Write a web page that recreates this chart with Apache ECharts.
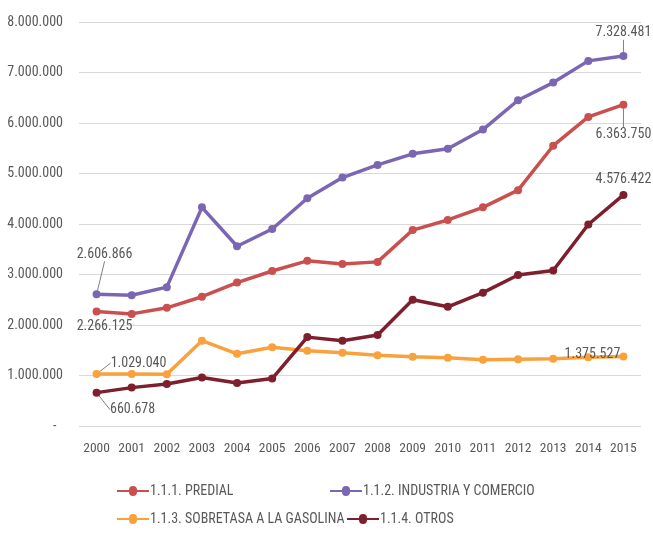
<!DOCTYPE html>
<html>
<head>
<meta charset="utf-8">
<script src="https://cdn.jsdelivr.net/npm/echarts@6/dist/echarts.min.js"></script>
<style>html,body{margin:0;padding:0;background:#fff;}#c{width:653px;height:533px;}</style>
</head>
<body>
<div id="c"></div>
<script>
const years = ['2000','2001','2002','2003','2004','2005','2006','2007','2008','2009','2010','2011','2012','2013','2014','2015'];
const predial = [2266125, 2220000, 2340000, 2560000, 2840000, 3070000, 3270000, 3210000, 3250000, 3880000, 4080000, 4330000, 4670000, 5550000, 6120000, 6363750];
const industria = [2606866, 2590000, 2750000, 4330000, 3560000, 3900000, 4510000, 4920000, 5170000, 5390000, 5490000, 5870000, 6450000, 6800000, 7230000, 7328481];
const sobretasa = [1029040, 1030000, 1025000, 1690000, 1430000, 1560000, 1490000, 1450000, 1400000, 1370000, 1350000, 1310000, 1320000, 1330000, 1360000, 1375527];
const otros = [660678, 760000, 830000, 960000, 850000, 940000, 1760000, 1690000, 1800000, 2500000, 2360000, 2640000, 2990000, 3080000, 3990000, 4576422];
const names = ['1.1.1. PREDIAL', '1.1.2. INDUSTRIA Y COMERCIO', '1.1.3. SOBRETASA A LA GASOLINA', '1.1.4. OTROS'];
const colors = ['#c9504f', '#7b66b3', '#f9a13d', '#7d1f2c'];

const FONT = "'Liberation Sans Narrow', 'Roboto Condensed', 'Liberation Sans', sans-serif";
function fmt(v) {
  return String(Math.round(v)).replace(/\B(?=(\d{3})+(?!\d))/g, '.');
}
// label offsets (dx, dy) relative to point, and whether to draw a leader line
const labelCfg = [
  {0: [8, 15, false], 15: [0, 30, true]},
  {0: [8, -40, true], 15: [0, -23, true]},
  {0: [42, -11, true], 15: [-31, -2, false]},
  {0: [36, 17, true], 15: [0, -15, false]}
];
function build(arr, si) {
  return arr.map((v, i) => {
    const c = labelCfg[si][i];
    if (!c) return v;
    return {value: v, label: {show: true}, labelLine: {show: c[2]}};
  });
}
const series = [predial, industria, sobretasa, otros].map((arr, si) => ({
  name: names[si],
  type: 'line',
  data: build(arr, si),
  symbol: 'circle',
  symbolSize: 8,
  lineStyle: {width: 3.5, color: colors[si]},
  itemStyle: {color: colors[si]},
  label: {
    show: false, position: 'inside', color: '#595959', fontSize: 14, fontFamily: FONT,
    formatter: p => fmt(p.value)
  },
  labelLine: {show: false, lineStyle: {color: '#7f7f7f', width: 1}},
  labelLayout: function (p) {
    const c = labelCfg[si][p.dataIndex];
    if (!c) return {};
    return {dx: c[0], dy: c[1]};
  },
  z: 2 + si
}));

const chart = echarts.init(document.getElementById('c'));
const legendBase = {
  itemWidth: 32, itemHeight: 10, itemGap: 2,
  textStyle: {color: '#595959', fontSize: 14, fontFamily: FONT, padding: [0, 0, 0, -4]},
  icon: 'path://M0,4 L12,4 A4,4 0 0 1 20,4 L32,4 L32,6 L20,6 A4,4 0 0 1 12,6 L0,6 Z',
  padding: 0
};
chart.setOption({
  animation: false,
  backgroundColor: '#fff',
  color: colors,
  grid: {left: 79, top: 22, width: 562, height: 404, containLabel: false},
  xAxis: {
    type: 'category', data: years, boundaryGap: true,
    axisLine: {show: false}, axisTick: {show: false},
    axisLabel: {color: '#595959', fontSize: 13.5, fontFamily: FONT, margin: 16, interval: 0}
  },
  yAxis: {
    type: 'value', min: 0, max: 8000000, interval: 1000000,
    axisLine: {show: false}, axisTick: {show: false},
    splitLine: {lineStyle: {color: '#d9d9d9', width: 1}},
    axisLabel: {
      color: '#595959', fontSize: 14, fontFamily: FONT, margin: 16,
      formatter: v => v === 0 ? '-  ' : fmt(v)
    }
  },
  legend: [
    Object.assign({}, legendBase, {data: [names[0]], left: 117, top: 484}),
    Object.assign({}, legendBase, {data: [names[1]], left: 330, top: 484}),
    Object.assign({}, legendBase, {data: [names[2]], left: 117, top: 512}),
    Object.assign({}, legendBase, {data: [names[3]], left: 347, top: 512})
  ],
  series: series
});
</script>
</body>
</html>
